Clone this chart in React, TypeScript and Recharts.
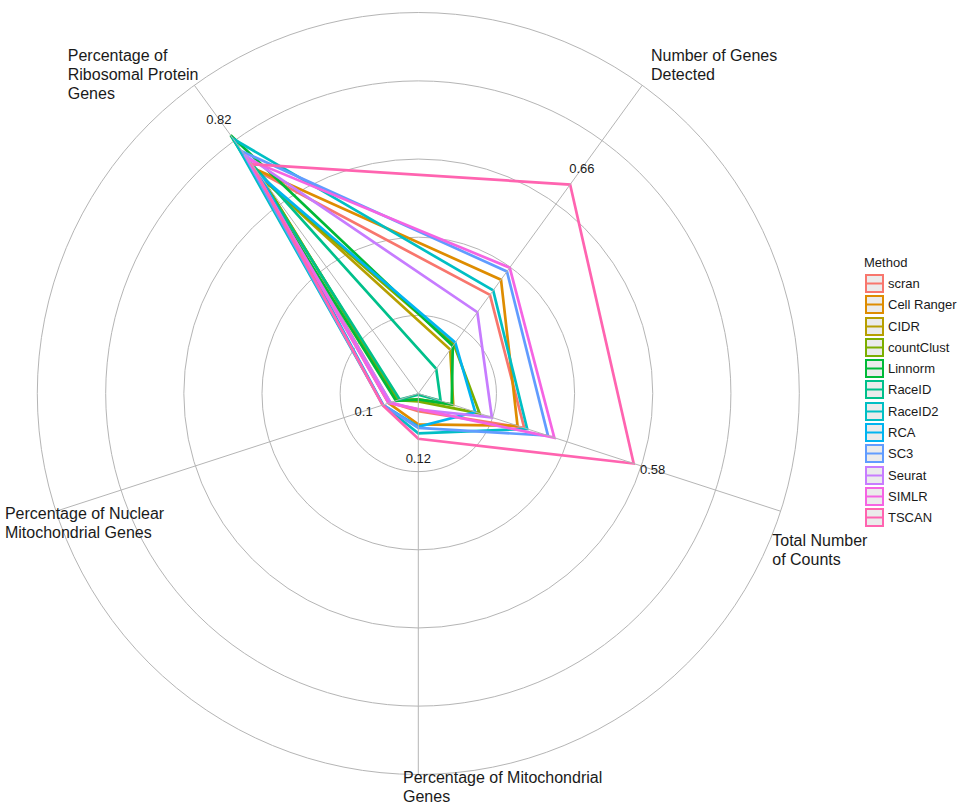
import React from 'react';
import { RadarChart, Radar, PolarGrid, PolarAngleAxis, PolarRadiusAxis, Legend } from 'recharts';

// ---- data ----
const axes = [
  'Number of Genes\nDetected',
  'Total Number\nof Counts',
  'Percentage of Mitochondrial\nGenes',
  'Percentage of Nuclear\nMitochondrial Genes',
  'Percentage of\nRibosomal Protein\nGenes',
];

const methods = ['scran', 'Cell Ranger', 'CIDR', 'countClust', 'Linnorm', 'RaceID', 'RaceID2', 'RCA', 'SC3', 'Seurat', 'SIMLR', 'TSCAN'];

// values per axis: genes detected, total counts, % mito, % nuclear mito, % ribosomal
const scran = [0.312, 0.285, 0.045, 0.075, 0.705];
const cellRanger = [0.36, 0.267, 0.079, 0.08, 0.71];
const cidr = [0.139, 0.094, 0.015, 0.055, 0.68];
const countClust = [0.155, 0.165, 0.02, 0.055, 0.68];
const linnorm = [0.15, 0.09, 0.015, 0.06, 0.817];
const raceID = [0.078, 0.06, 0.003, 0.05, 0.73];
const raceID2 = [0.326, 0.293, 0.102, 0.095, 0.805];
const rca = [0.161, 0.153, 0.085, 0.095, 0.69];
const sc3 = [0.386, 0.349, 0.088, 0.095, 0.765];
const seurat = [0.257, 0.198, 0.041, 0.075, 0.755];
const simlr = [0.398, 0.366, 0.04, 0.08, 0.74];
const tscan = [0.661, 0.5795, 0.116, 0.096, 0.725];

const seriesList = [scran, cellRanger, cidr, countClust, linnorm, raceID, raceID2, rca, sc3, seurat, simlr, tscan];

const colors = ['#F8766D', '#DE8C00', '#B79F00', '#7CAE00', '#00BA38', '#00C08B', '#00BFC4', '#00B4F0', '#619CFF', '#C77CFF', '#F564E3', '#FF64B0'];

const gridTicks = [0.2, 0.4, 0.6, 0.8];
const outerRing = 0.975;

// ---- layout ----
const W = 962;
const H = 805;
const CX = 418.3;
const CY = 393.5;
const R = 381; // radius of the outer ring (value = outerRing)
const K = R / outerRing; // pixels per unit (radius at value 1)
const GRID = '#b5b5b5';
const FONT = '"Liberation Sans", Arial, Helvetica, sans-serif';

const labelOffsets = [
  { dx: 8.7, dy: -24.3 },
  { dx: -8.4, dy: 34.8 },
  { dx: -15.3, dy: 8.2 },
  { dx: -51, dy: 7.5 },
  { dx: -126.6, dy: -24.6 },
];

const maxValues = axes.map((_, i) => Math.max(...seriesList.map((s) => s[i])));

const data = axes.map((a, i) => {
  const row: Record<string, any> = { axis: a };
  methods.forEach((m, j) => {
    row[m] = seriesList[j][i];
  });
  row.__max = maxValues[i];
  return row;
});

const gridRadii = [...gridTicks, outerRing].map((t) => t * K);

const fmt = (v: number) => Number(v.toFixed(2)).toString();

const AngleTick = (props: any) => {
  const { payload } = props;
  const idx = axes.indexOf(payload.value);
  const ang = (payload.coordinate * Math.PI) / 180;
  const tx = CX + R * Math.cos(ang);
  const ty = CY - R * Math.sin(ang);
  const off = labelOffsets[idx] || { dx: 0, dy: 0 };
  const lines = String(payload.value).split('\n');
  const x = tx + off.dx;
  return (
    <g>
      <line x1={CX} y1={CY} x2={tx} y2={ty} stroke={GRID} strokeWidth={1} />
      <text x={x} y={ty + off.dy} fontSize={16} fill="#1a1a1a" fontFamily={FONT} textAnchor="start">
        {lines.map((l, i) => (
          <tspan key={i} x={x} dy={i === 0 ? 0 : 19}>
            {l}
          </tspan>
        ))}
      </text>
    </g>
  );
};

const MaxLabel = (props: any) => {
  const { cx, cy } = props;
  const dx = cx - CX;
  const dy = cy - CY;
  const len = Math.sqrt(dx * dx + dy * dy) || 1;
  const ang = (Math.atan2(-dy, dx) * 180) / Math.PI;
  let best = 0;
  let bestD = 1e9;
  for (let i = 0; i < axes.length; i++) {
    const a = 54 - i * 72;
    const d = Math.abs(((((ang - a) % 360) + 540) % 360) - 180);
    if (d < bestD) {
      bestD = d;
      best = i;
    }
  }
  const x = cx + (dx / len) * 20;
  const y = cy + (dy / len) * 20;
  return (
    <text x={x} y={y} dy="0.35em" textAnchor="middle" fontSize={13} fill="#1a1a1a" fontFamily={FONT}>
      {fmt(maxValues[best])}
    </text>
  );
};

const renderLegend = () => (
  <div style={{ fontFamily: FONT, color: '#1a1a1a' }}>
    <div style={{ fontSize: 13, height: 21, lineHeight: '21px', paddingLeft: 0 }}>Method</div>
    {methods.map((m, i) => (
      <div key={m} style={{ display: 'flex', alignItems: 'center', height: 21.27 }}>
        <svg width={23} height={21} style={{ display: 'block' }}>
          <rect x={2} y={2} width={17} height={17} fill="#ebebeb" stroke={colors[i]} strokeWidth={2} />
          <line x1={2} x2={19} y1={10.5} y2={10.5} stroke={colors[i]} strokeWidth={2} />
        </svg>
        <span style={{ fontSize: 13, lineHeight: '21px', marginLeft: 1, whiteSpace: 'nowrap' }}>{m}</span>
      </div>
    ))}
  </div>
);

export default function App() {
  return (
    <div style={{ position: 'absolute', left: 0, top: 0, width: W, height: H, background: '#fff' }}>
      <RadarChart
        width={W}
        height={H}
        data={data}
        cx={CX}
        cy={CY}
        outerRadius={K}
        startAngle={54}
        endAngle={-306}
        margin={{ top: 0, right: 0, bottom: 0, left: 0 }}
      >
        <PolarGrid gridType="circle" polarRadius={gridRadii} radialLines={false} stroke={GRID} strokeWidth={1} />
        <PolarAngleAxis dataKey="axis" tick={<AngleTick />} tickLine={false} axisLine={false} />
        <PolarRadiusAxis type="number" domain={[0, 1]} tick={false} axisLine={false} />
        {methods.map((m, i) => (
          <Radar
            key={m}
            name={m}
            dataKey={m}
            stroke={colors[i]}
            strokeWidth={2.7}
            fill="none"
            fillOpacity={0}
            dot={false}
            isAnimationActive={false}
            strokeLinejoin="miter"
          />
        ))}
        <Radar
          name="max"
          dataKey="__max"
          stroke="none"
          fill="none"
          fillOpacity={0}
          dot={<MaxLabel />}
          isAnimationActive={false}
          legendType="none"
        />
        <Legend
          layout="vertical"
          align="right"
          verticalAlign="top"
          content={renderLegend}
          wrapperStyle={{ position: 'absolute', left: 864, top: 252, width: 100, right: 'auto' }}
        />
      </RadarChart>
    </div>
  );
}
